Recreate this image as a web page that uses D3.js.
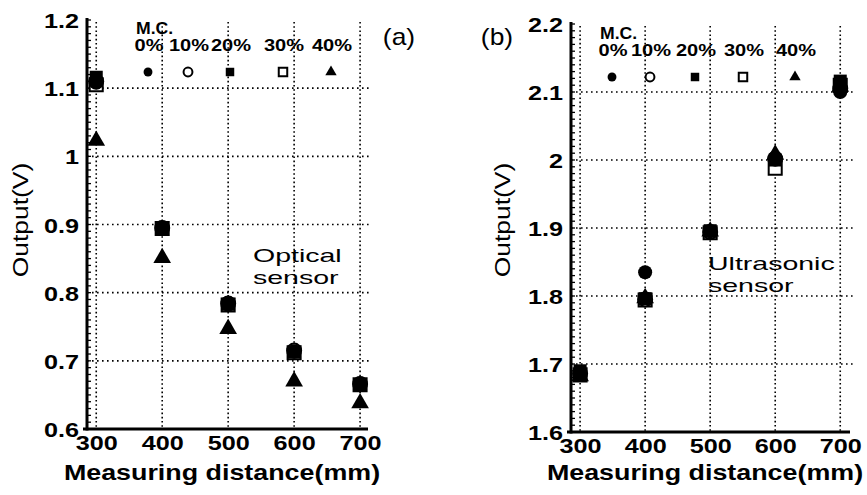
<!DOCTYPE html>
<html>
<head>
<meta charset="utf-8">
<script src="https://cdn.jsdelivr.net/npm/d3@7"></script>
<style>
  body { margin: 0; background: #fff; }
  svg { display: block; font-family: "Liberation Sans", Arial, sans-serif; }
</style>
</head>
<body>
<svg id="chart" width="867" height="495"></svg>
<script>
// measuring distance (mm) and moisture content labels
var distances = [300, 400, 500, 600, 700];
var mcLabels = ["0%", "10%", "20%", "30%", "40%"];
var mcShapes = ["filledCircle", "openCircle", "filledSquare", "openSquare", "triangle"];

// (a) optical sensor output (V), one array per moisture content
var optical0  = [1.108, 0.896, 0.785, 0.714, 0.667];
var optical10 = [1.110, 0.895, 0.784, 0.715, 0.666];
var optical20 = [1.116, 0.893, 0.783, 0.713, 0.664];
var optical30 = [1.105, 0.894, 0.782, 0.712, 0.665];
var optical40 = [1.023, 0.851, 0.747, 0.670, 0.638];

// (b) ultrasonic sensor output (V)
var ultra0  = [1.688, 1.835, 1.895, 2.003, 2.100];
var ultra10 = [1.686, 1.795, 1.894, 2.002, 2.105];
var ultra20 = [1.690, 1.796, 1.896, 2.000, 2.116];
var ultra30 = [1.684, 1.794, 1.893, 1.988, 2.110];
var ultra40 = [1.682, 1.797, 1.895, 2.008, 2.108];

var yTicksA = [0.6, 0.7, 0.8, 0.9, 1.0, 1.1, 1.2];
var yTicksB = [1.6, 1.7, 1.8, 1.9, 2.0, 2.1, 2.2];

var svg = d3.select("#chart");
var stretchK = 1.2;

// the scanned figure is wider than a normal font, so widen the text a bit
function stretch(sel, k)
{
    sel.each(function() {
        var w = this.getComputedTextLength();
        d3.select(this).attr("textLength", w * (k || stretchK)).attr("lengthAdjust", "spacingAndGlyphs");
    });
}

function symbolPath(shape, big)
{
    var t = d3.symbolCircle, s = big ? 155 : 62;
    if (shape == "filledSquare" || shape == "openSquare") { t = d3.symbolSquare; s = big ? 170 : 72; }
    if (shape == "triangle") { t = d3.symbolTriangle; s = big ? 135 : 56; }
    return d3.symbol().type(t).size(s)();
}

function isOpen(shape) { return shape == "openCircle" || shape == "openSquare"; }

function drawPanel(p)
{
    var g = svg.append("g");
    var x = d3.scaleLinear().domain(p.xDomain).range(p.xRange);
    var y = d3.scaleLinear().domain(p.yDomain).range(p.yRange);
    var left = p.xRange[0], right = p.xRange[1], bottom = p.yRange[0], top = p.yRange[1];

    // dotted grid
    g.selectAll(".vgrid").data(distances).enter().append("line")
        .attr("x1", d => x(d)).attr("x2", d => x(d))
        .attr("y1", top + 2).attr("y2", bottom)
        .attr("stroke", "#000").attr("stroke-width", 1.6).attr("stroke-dasharray", "1.6,2.6");
    g.selectAll(".hgrid").data(p.yTicks.slice(1, -1)).enter().append("line")
        .attr("x1", left).attr("x2", right + 4)
        .attr("y1", d => y(d)).attr("y2", d => y(d))
        .attr("stroke", "#000").attr("stroke-width", 1.6).attr("stroke-dasharray", "1.6,3.4");

    // minor ticks every 0.01 V
    var minor = d3.range(0, 61).map(i => p.yDomain[0] + i * 0.01);
    g.selectAll(".minor").data(minor).enter().append("line")
        .attr("x1", left - 1).attr("x2", left + 4)
        .attr("y1", d => y(d)).attr("y2", d => y(d))
        .attr("stroke", "#000").attr("stroke-width", 1.3);

    // axis lines
    g.append("line").attr("x1", left).attr("x2", left).attr("y1", top - 2).attr("y2", bottom + 1.5)
        .attr("stroke", "#000").attr("stroke-width", 3);
    g.append("line").attr("x1", left - 4).attr("x2", right).attr("y1", bottom).attr("y2", bottom)
        .attr("stroke", "#000").attr("stroke-width", 3);

    // tick labels
    var yAxis = g.append("g").attr("transform", "translate(" + (left - 8) + ",0)")
        .call(d3.axisLeft(y).tickValues(p.yTicks).tickFormat(d3.format("~g")).tickSize(0).tickPadding(0));
    yAxis.select(".domain").remove();
    yAxis.selectAll("text").attr("font-size", 21).attr("font-weight", "bold")
        .attr("font-family", "Liberation Sans, Arial, sans-serif").attr("fill", "#000")
        .attr("dy", "0.36em").call(stretch);

    var xAxis = g.append("g").attr("transform", "translate(0," + (bottom + 3) + ")")
        .call(d3.axisBottom(x).tickValues(distances).tickFormat(d3.format("d")).tickSize(0).tickPadding(0));
    xAxis.select(".domain").remove();
    xAxis.selectAll("text").attr("font-size", 21).attr("font-weight", "bold")
        .attr("font-family", "Liberation Sans, Arial, sans-serif").attr("fill", "#000")
        .attr("dy", "0.85em").call(stretch);

    // axis titles
    g.append("text").attr("x", p.xTitleX).attr("y", 480).attr("text-anchor", "middle")
        .attr("font-size", 22).attr("font-weight", "bold").text("Measuring distance(mm)").call(stretch, 1.22);
    g.append("text").attr("transform", "translate(" + p.yTitleX + ",220) rotate(-90)")
        .attr("text-anchor", "middle").attr("font-size", 22).text("Output(V)").call(stretch, 1.2);

    // panel letter
    g.append("text").attr("x", p.letterX).attr("y", 45).attr("text-anchor", "middle")
        .attr("font-size", 24).text(p.letter).call(stretch, 1.1);

    // sensor name, two tight lines
    g.selectAll(".name").data(p.name).enter().append("text")
        .attr("x", p.nameX).attr("y", (d, i) => p.nameY + i * 22)
        .attr("font-size", 19).text(d => d).call(stretch, 1.5);

    // legend
    g.append("text").attr("x", p.legendX[0] - 12).attr("y", p.legendY - 38)
        .attr("font-size", 16).attr("font-weight", "bold").text("M.C.").call(stretch, 1.1);
    g.selectAll(".mcl").data(mcLabels).enter().append("text")
        .attr("x", (d, i) => p.legendX[i] + 1).attr("y", p.legendY - 21).attr("text-anchor", "middle")
        .attr("font-size", 16).attr("font-weight", "bold").text(d => d).call(stretch, 1.25);
    g.selectAll(".mcs").data(mcShapes).enter().append("path")
        .attr("d", d => symbolPath(d, false))
        .attr("transform", (d, i) => "translate(" + p.legendX[i] + "," + p.legendY + ")")
        .attr("fill", d => isOpen(d) ? "#fff" : "#000")
        .attr("stroke", "#000").attr("stroke-width", d => isOpen(d) ? 2 : 0);

    // data markers, open ones first so filled ones sit on top
    var order = [3, 1, 4, 2, 0];
    order.forEach(function(k) {
        var shape = mcShapes[k];
        g.selectAll(".m" + k).data(p.series[k]).enter().append("path")
            .attr("d", symbolPath(shape, true))
            .attr("transform", (d, i) => "translate(" + x(distances[i]) + "," + y(d) + ")")
            .attr("fill", isOpen(shape) ? "#fff" : "#000")
            .attr("stroke", "#000").attr("stroke-width", isOpen(shape) ? 2 : 0);
    });
}

drawPanel({
    xDomain: [286, 712], xRange: [87, 368],
    yDomain: [0.6, 1.2], yRange: [429, 20],
    yTicks: yTicksA,
    series: [optical0, optical10, optical20, optical30, optical40],
    xTitleX: 222, yTitleX: 28,
    letter: "(a)", letterX: 399,
    name: ["Optical", "sensor"], nameX: 253, nameY: 262,
    legendX: [148, 188, 230, 283, 331], legendY: 72
});

drawPanel({
    xDomain: [286, 715], xRange: [571, 850],
    yDomain: [1.6, 2.2], yRange: [432, 24],
    yTicks: yTicksB,
    series: [ultra0, ultra10, ultra20, ultra30, ultra40],
    xTitleX: 705, yTitleX: 510,
    letter: "(b)", letterX: 497,
    name: ["Ultrasonic", "sensor"], nameX: 708, nameY: 270,
    legendX: [612, 650, 695, 743, 795], legendY: 77
});
</script>
</body>
</html>
